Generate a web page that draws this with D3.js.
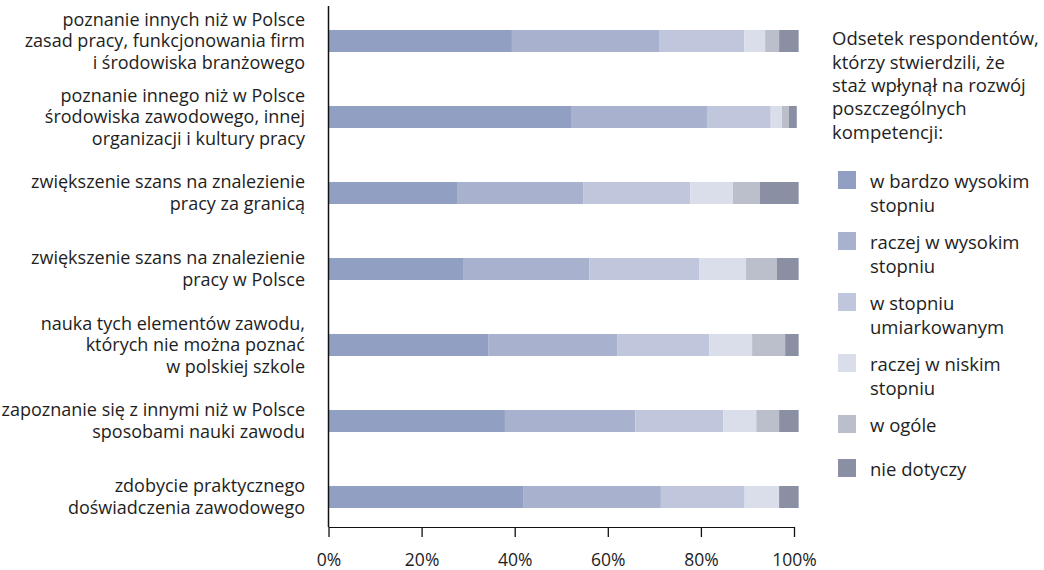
<!DOCTYPE html>
<html>
<head>
<meta charset="utf-8">
<script src="https://cdn.jsdelivr.net/npm/d3@7"></script>
<style>
  html, body { margin: 0; padding: 0; background: #fff; }
  svg { display: block; }
  text { font-family: "Open Sans", "Noto Sans", sans-serif; fill: #1e1e1e; }
</style>
</head>
<body>
<svg id="chart" width="1044" height="570"></svg>
<script>
// ---- data ----
const categories = [
  "poznanie innych niż w Polsce\nzasad pracy, funkcjonowania firm\ni środowiska branżowego",
  "poznanie innego niż w Polsce\nśrodowiska zawodowego, innej\norganizacji i kultury pracy",
  "zwiększenie szans na znalezienie\npracy za granicą",
  "zwiększenie szans na znalezienie\npracy w Polsce",
  "nauka tych elementów zawodu,\nktórych nie można poznać\nw polskiej szkole",
  "zapoznanie się z innymi niż w Polsce\nsposobami nauki zawodu",
  "zdobycie praktycznego\ndoświadczenia zawodowego"
];
const seriesKeys = ["bardzoWysokim", "raczejWysokim", "umiarkowanym", "raczejNiskim", "wOgole", "nieDotyczy"];
const seriesLabels = [
  "w bardzo wysokim\nstopniu",
  "raczej w wysokim\nstopniu",
  "w stopniu\numiarkowanym",
  "raczej w niskim\nstopniu",
  "w ogóle",
  "nie dotyczy"
];
const bardzoWysokim = [39.4, 52.1, 27.6, 28.9, 34.3, 37.9, 41.8];
const raczejWysokim = [31.6, 29.2, 27.1, 27.1, 27.7, 28.0, 29.6];
const umiarkowanym  = [18.3, 13.7, 23.0, 23.6, 19.8, 18.9, 18.0];
const raczejNiskim  = [4.5, 2.4, 9.2, 10.1, 9.2, 7.1, 7.4];
const wOgole        = [3.0, 1.5, 5.8, 6.6, 7.1, 4.9, 0];
const nieDotyczy    = [4.2, 1.7, 8.3, 4.7, 2.9, 4.2, 4.2];
const xTicks = [0, 20, 40, 60, 80, 100];
const legendTitle = "Odsetek respondentów,\nktórzy stwierdzili, że\nstaż wpłynął na rozwój\nposzczególnych\nkompetencji:";
const colors = ["#909fc2", "#a8b1cd", "#c0c6dc", "#dadeea", "#bbbfcb", "#8a8fa3"];

// ---- build table ----
const seriesValues = [bardzoWysokim, raczejWysokim, umiarkowanym, raczejNiskim, wOgole, nieDotyczy];
const table = categories.map((c, i) => {
  const row = { category: c };
  seriesKeys.forEach((k, j) => row[k] = seriesValues[j][i]);
  return row;
});

const FONT = "'Open Sans', 'Noto Sans', sans-serif";
const svg = d3.select("#chart");
const x = d3.scaleLinear().domain([0, 100]).range([328.5, 794]);
const y = d3.scalePoint().domain(categories).range([41, 497]);
const barH = 22;
const color = d3.scaleOrdinal().domain(seriesKeys).range(colors);

const stacked = d3.stack().keys(seriesKeys)(table);

svg.append("g")
  .selectAll("g")
  .data(stacked)
  .join("g")
  .attr("fill", d => color(d.key))
  .selectAll("rect")
  .data(d => d)
  .join("rect")
  .attr("x", d => x(d[0]))
  .attr("width", d => Math.max(0, x(d[1]) - x(d[0])))
  .attr("y", d => y(d.data.category) - barH / 2)
  .attr("height", barH);

// vertical axis line
svg.append("line")
  .attr("x1", x(0)).attr("x2", x(0))
  .attr("y1", 6).attr("y2", 527)
  .attr("stroke", "#111").attr("stroke-width", 1.5);

// x axis
const xAxis = svg.append("g")
  .attr("transform", "translate(0,527)")
  .call(d3.axisBottom(x).tickValues(xTicks).tickFormat(d => d + "%").tickSize(10).tickSizeOuter(0));
xAxis.select(".domain").attr("stroke", "#111").attr("stroke-width", 1);
xAxis.selectAll(".tick line").attr("stroke", "#111").attr("stroke-width", 1.3);
xAxis.selectAll(".tick text")
  .attr("font-family", FONT)
  .attr("font-size", 17.5)
  .attr("fill", "#1e1e1e")
  .attr("dy", null)
  .attr("y", 39);

// category labels
const lh = 21.7;
svg.append("g")
  .selectAll("text")
  .data(categories)
  .join("text")
  .attr("text-anchor", "end")
  .attr("font-size", 18)
  .attr("transform", d => `translate(305,${y(d)})`)
  .each(function(d) {
    const lines = d.split("\n");
    const t = d3.select(this);
    lines.forEach((ln, i) => {
      t.append("tspan")
        .attr("x", 0)
        .attr("y", (i - (lines.length - 1) / 2) * lh)
        .attr("dy", "0.35em")
        .text(ln);
    });
  });

// legend title
const lt = svg.append("text").attr("font-size", 18.5);
legendTitle.split("\n").forEach((ln, i) => {
  lt.append("tspan").attr("x", 832).attr("y", 39 + i * 23.3).attr("dy", "0.35em").text(ln);
});

// legend items
let ly = 180;
const legend = svg.append("g");
seriesKeys.forEach((k, i) => {
  const lines = seriesLabels[i].split("\n");
  const g = legend.append("g").attr("transform", `translate(838,${ly})`);
  g.append("rect").attr("x", 0).attr("y", -9).attr("width", 18).attr("height", 18).attr("fill", color(k));
  const t = g.append("text").attr("font-size", 18.5);
  lines.forEach((ln, j) => {
    t.append("tspan").attr("x", 32).attr("y", 2 + j * 23.3).attr("dy", "0.35em").text(ln);
  });
  ly += 44 + (lines.length - 1) * 17;
});
</script>
</body>
</html>
